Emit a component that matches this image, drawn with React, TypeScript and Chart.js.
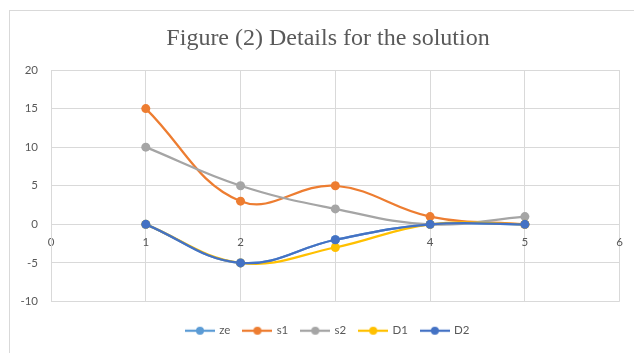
import React, { useEffect, useRef } from 'react';
import { Chart, registerables } from 'chart.js';

Chart.register(...registerables);

// Series values, one entry per x position
const xValues = [1, 2, 3, 4, 5];
const zeValues = [0, -5, -2, 0, 0];
const s1Values = [15, 3, 5, 1, 0];
const s2Values = [10, 5, 2, 0, 1];
const d1Values = [0, -5, -3, 0, 0];
const d2Values = [0, -5, -2, 0, 0];

const seriesNames = ['ze', 's1', 's2', 'D1', 'D2'];
const seriesValues = [zeValues, s1Values, s2Values, d1Values, d2Values];
const seriesColors = ['#5B9BD5', '#ED7D31', '#A5A5A5', '#FFC000', '#4472C4'];

// Axis tick values
const xTicks = [0, 1, 2, 3, 4, 5, 6];
const yTicks = [-10, -5, 0, 5, 10, 15, 20];

const titleText = 'Figure (2) Details for the solution';

const GRID = '#d9d9d9';
const TEXT = '#595959';
const SANS = 'Lato, "Liberation Sans", sans-serif';

// Legend symbol: a short line with a round marker in the middle
function legendMarker(color: string): HTMLCanvasElement {
  const c = document.createElement('canvas');
  c.width = 30;
  c.height = 12;
  const ctx = c.getContext('2d')!;
  ctx.strokeStyle = color;
  ctx.lineWidth = 2.25;
  ctx.beginPath();
  ctx.moveTo(0, 6);
  ctx.lineTo(30, 6);
  ctx.stroke();
  ctx.fillStyle = color;
  ctx.beginPath();
  ctx.arc(15, 6, 4, 0, Math.PI * 2);
  ctx.fill();
  return c;
}

// Let the value-axis labels extend into the left padding instead of being clipped
const wideLabelArea = {
  id: 'wideLabelArea',
  afterLayout(chart: any) {
    if (chart.scales.y) chart.scales.y.left = 0;
  },
};

export default function App() {
  const canvasRef = useRef<HTMLCanvasElement | null>(null);

  useEffect(() => {
    if (!canvasRef.current) return;

    const datasets = seriesNames.map((name, i) => ({
      label: name,
      data: xValues.map((x, j) => ({ x, y: seriesValues[i][j] })),
      borderColor: seriesColors[i],
      backgroundColor: seriesColors[i],
      pointBackgroundColor: seriesColors[i],
      pointBorderColor: seriesColors[i],
      pointRadius: 4.5,
      pointBorderWidth: 0,
      borderWidth: 2.25,
      tension: 0.4,
      fill: false,
      showLine: true,
      xAxisID: 'x',
      yAxisID: 'y',
      // later series are painted over earlier ones
      order: seriesNames.length - 1 - i,
    }));

    const markers = seriesColors.map(legendMarker);

    const chart = new Chart(canvasRef.current, {
      type: 'scatter',
      data: { datasets },
      plugins: [wideLabelArea],
      options: {
        animation: false,
        responsive: false,
        layout: { padding: { left: 31, right: 9, top: 10, bottom: 6.5 } },
        plugins: {
          tooltip: { enabled: false },
          title: {
            display: true,
            text: titleText,
            color: TEXT,
            font: { family: '"Liberation Serif", "Times New Roman", serif', size: 24, weight: 'normal' },
            padding: { top: 14.6, bottom: 16.6 },
          },
          legend: {
            display: true,
            position: 'bottom',
            labels: {
              usePointStyle: true,
              pointStyleWidth: 27,
              padding: 13.5,
              color: TEXT,
              font: { family: SANS, size: 11.5 },
              generateLabels: () =>
                seriesNames.map((name, i) => ({
                  text: name,
                  fillStyle: seriesColors[i],
                  strokeStyle: seriesColors[i],
                  lineWidth: 0,
                  pointStyle: markers[i],
                  hidden: false,
                  datasetIndex: i,
                  fontColor: TEXT,
                })),
            },
          },
        },
        scales: {
          x: {
            type: 'linear',
            position: { y: 0 },
            min: xTicks[0],
            max: xTicks[xTicks.length - 1],
            afterBuildTicks: (s: any) => {
              s.ticks = xTicks.map((v) => ({ value: v }));
            },
            grid: { color: GRID, lineWidth: 1, drawTicks: false },
            border: { display: true, color: GRID, width: 1 },
            ticks: {
              padding: 11,
              color: TEXT,
              font: { family: SANS, size: 11.5 },
              maxRotation: 0,
            },
          },
          gap: {
            type: 'linear',
            position: 'bottom',
            display: true,
            grid: { display: false, drawTicks: false },
            border: { display: false },
            ticks: { display: false },
            afterFit: (s: any) => {
              s.height = 10;
            },
          },
          y: {
            type: 'linear',
            position: 'left',
            min: yTicks[0],
            max: yTicks[yTicks.length - 1],
            afterBuildTicks: (s: any) => {
              s.ticks = yTicks.map((v) => ({ value: v }));
            },
            afterFit: (s: any) => {
              s.width = 20;
            },
            grid: { color: GRID, lineWidth: 1, drawTicks: false },
            border: { display: true, color: GRID, width: 1 },
            ticks: {
              padding: 13,
              color: TEXT,
              font: { family: SANS, size: 11.5 },
            },
          },
        },
      } as any,
    });

    return () => chart.destroy();
  }, []);

  return (
    <div style={{ position: 'fixed', left: 0, top: 0, width: 634, height: 353, background: '#ffffff' }}>
      <div
        style={{
          position: 'absolute',
          left: 9,
          top: 10,
          width: 625,
          height: 343,
          borderLeft: '1px solid #d9d9d9',
          borderTop: '1px solid #d9d9d9',
          boxSizing: 'border-box',
        }}
      />
      <canvas
        ref={canvasRef}
        width={634}
        height={353}
        style={{ position: 'absolute', left: 0, top: 0, width: 634, height: 353 }}
      />
    </div>
  );
}
